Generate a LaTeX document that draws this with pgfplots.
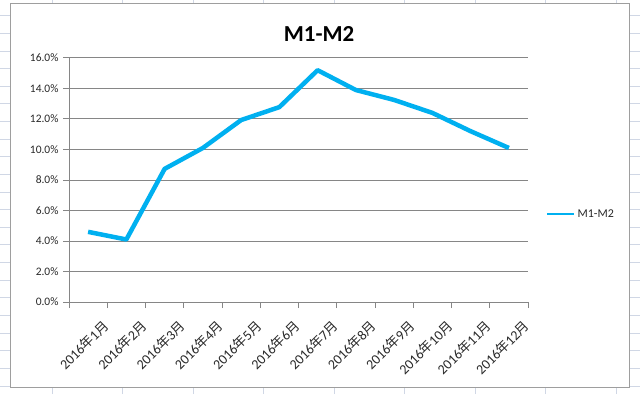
\documentclass[border=0pt]{standalone}
\usepackage{fontspec}
\usepackage{pgfplots}
\pgfplotsset{compat=1.18}
\setmainfont{Carlito}
\newfontfamily\cjk{Noto Sans CJK SC}[Scale=0.95]
\definecolor{cellgrid}{RGB}{208,215,229}
\definecolor{axgray}{RGB}{134,134,134}
\definecolor{linecol}{RGB}{0,176,240}
\definecolor{txt}{RGB}{40,40,40}
\newcommand\ym[1]{2016{\cjk 年}#1{\cjk 月}}
\begin{document}
\begin{tikzpicture}[x=1bp,y=1bp]
\useasboundingbox (0,0) rectangle (640,394);
% spreadsheet cell grid
\foreach \k in {0,...,21} {
  \draw[cellgrid, line width=0.8bp] (0,{394-15.7-17.63*\k}) -- (640,{394-15.7-17.63*\k});
}
\foreach \k in {0,...,8} {
  \draw[cellgrid, line width=0.8bp] ({52.3+70.46*\k},0) -- ({52.3+70.46*\k},394);
}
% chart area
\draw[fill=white, draw=axgray!80, line width=1bp] (10,{394-3.5}) rectangle (629,{394-387});
\node[font=\bfseries\fontsize{23}{26}\selectfont, text=black] at (319,{394-34}) {M1-M2};
\begin{axis}[
  at={(69bp,92bp)}, anchor=south west,
  scale only axis,
  width=459bp, height=244bp,
  xmin=0.5, xmax=12.5,
  ymin=0, ymax=16,
  axis x line*=bottom,
  axis y line*=left,
  axis line style={axgray, line width=1bp},
  ytick={0,2,...,16},
  yticklabel={\pgfmathprintnumber[fixed,fixed zerofill,precision=1]{\tick}\%},
  ymajorgrids,
  major grid style={axgray, line width=1bp},
  xtick={1,...,12},
  xticklabels={\ym{1},\ym{2},\ym{3},\ym{4},\ym{5},\ym{6},\ym{7},\ym{8},\ym{9},\ym{10},\ym{11},\ym{12}},
  minor xtick={0.5,1.5,...,12.5},
  x tick style={draw=none},
  minor x tick style={draw=axgray, line width=1bp},
  y tick style={axgray, line width=1bp},
  tick align=outside,
  major tick length=6bp,
  minor tick length=6bp,
  xticklabel style={rotate=45, anchor=north east, inner sep=1bp, xshift=3bp, yshift=-16bp,
    font=\fontsize{14}{15}\selectfont},
  yticklabel style={xshift=-1bp, font=\fontsize{11.5}{13}\selectfont},
  tick label style={text=txt},
  /pgf/number format/assume math mode=true,
  legend style={at={(1,0.36)}, anchor=west, xshift=18bp, draw=none, fill=none,
    font=\fontsize{12}{13}\selectfont, text=txt, inner sep=0pt},
  legend cell align=left,
  legend image code/.code={\draw[#1, line width=2.5bp] (0bp,0bp) -- (27bp,0bp);},
  clip=false,
]
\addplot[linecol, line width=4.5bp, line join=round] coordinates {
  (1,4.6) (2,4.1) (3,8.73) (4,10.1) (5,11.93) (6,12.78) (7,15.2)
  (8,13.9) (9,13.25) (10,12.4) (11,11.2) (12,10.1)
};
\addlegendentry{M1-M2}
\end{axis}
\end{tikzpicture}
\end{document}
